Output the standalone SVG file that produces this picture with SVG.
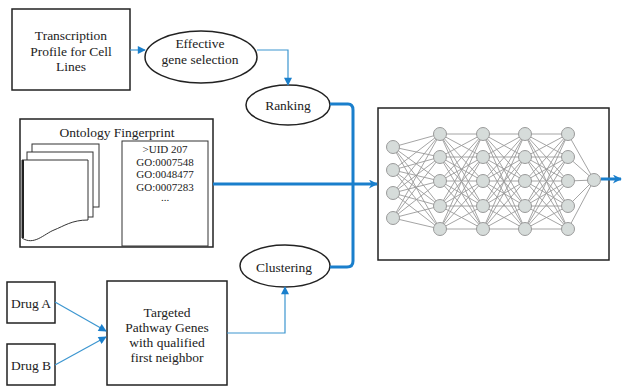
<svg xmlns="http://www.w3.org/2000/svg" width="622" height="387" viewBox="0 0 622 387" font-family="'Liberation Serif', 'DejaVu Serif', serif">
<style>
text{font-family:'Liberation Serif','DejaVu Serif',serif;fill:#222;text-anchor:middle}
.t{font-size:13.5px}
.s{font-size:11px}
.box{fill:#fff;stroke:#222;stroke-width:1.5}
.thin{fill:#fff;stroke:#333;stroke-width:1}
.bl{fill:none;stroke:#3c96d0;stroke-width:1.2}
.bk{fill:none;stroke:#1a7fcc;stroke-width:3}
.edge{fill:none;stroke:#9a9a9a;stroke-width:0.9}
.nd{fill:#d6dcda;stroke:#9a9a9a;stroke-width:1}
</style>
<defs>
<marker id="ah" viewBox="0 0 10 10" refX="9" refY="5" markerWidth="9" markerHeight="8" markerUnits="userSpaceOnUse" orient="auto"><path d="M0,0L10,5L0,10z" fill="#1a7fcc"/></marker>
<marker id="ahb" viewBox="0 0 10 10" refX="9" refY="5" markerWidth="13" markerHeight="9" markerUnits="userSpaceOnUse" orient="auto"><path d="M0,0L10,5L0,10L3,5z" fill="#1a7fcc"/></marker>
</defs>

<g id="transcription">
<rect class="box" x="12" y="9" width="118" height="81"/>
<text class="t" x="71" y="40">Transcription</text>
<text class="t" x="71" y="55.5">Profile for Cell</text>
<text class="t" x="71" y="71">Lines</text>
</g>

<g id="effective">
<ellipse class="box" cx="201" cy="57" rx="56" ry="26"/>
<text class="t" x="200" y="47.5">Effective</text>
<text class="t" x="200" y="63.5">gene selection</text>
</g>

<g id="ranking">
<ellipse class="box" cx="288" cy="105" rx="42" ry="20"/>
<text class="t" x="288" y="109.5">Ranking</text>
</g>

<g id="clustering">
<ellipse class="box" cx="285" cy="266" rx="45" ry="21"/>
<text class="t" x="284" y="272">Clustering</text>
</g>

<g id="ontology">
<rect class="box" x="20" y="119" width="193" height="128"/>
<text class="t" x="117" y="136.5">Ontology Fingerprint</text>
<rect class="thin" x="32" y="144" width="67" height="63"/>
<rect class="thin" x="27" y="152" width="66" height="65"/>
<path class="thin" d="M22,160H88V220C72,220 64,226 54,230C44,234 34,246 22,238Z"/>
<line x1="23" y1="160" x2="23" y2="238" stroke="#222" stroke-width="2"/>
<rect class="thin" x="122" y="141" width="86" height="105"/>
<text class="s" x="165" y="153">&gt;UID 207</text>
<text class="s" x="165" y="165.5">GO:0007548</text>
<text class="s" x="165" y="178">GO:0048477</text>
<text class="s" x="165" y="190.5">GO:0007283</text>
<text class="s" x="165" y="201">...</text>
</g>

<g id="drugA">
<rect class="box" x="7" y="282" width="48" height="41"/>
<text class="t" x="31" y="307.5">Drug A</text>
</g>

<g id="drugB">
<rect class="box" x="7" y="344" width="48" height="41"/>
<text class="t" x="31" y="369.5">Drug B</text>
</g>

<g id="targeted">
<rect class="box" x="107" y="281" width="120" height="104"/>
<text class="t" x="167" y="316.5">Targeted</text>
<text class="t" x="167" y="331.5">Pathway Genes</text>
<text class="t" x="167" y="346.5">with qualified</text>
<text class="t" x="167" y="361.5">first neighbor</text>
</g>

<g id="network">
<rect class="box" x="378" y="108" width="231" height="152"/>
<path class="edge" d="M393 147L440 134M393 147L440 157M393 147L440 181M393 147L440 206M393 147L440 229M393 170L440 134M393 170L440 157M393 170L440 181M393 170L440 206M393 170L440 229M393 193L440 134M393 193L440 157M393 193L440 181M393 193L440 206M393 193L440 229M393 218L440 134M393 218L440 157M393 218L440 181M393 218L440 206M393 218L440 229"/>
<path class="edge" d="M440 134L483 134M440 134L483 157M440 134L483 181M440 134L483 206M440 134L483 229M440 157L483 134M440 157L483 157M440 157L483 181M440 157L483 206M440 157L483 229M440 181L483 134M440 181L483 157M440 181L483 181M440 181L483 206M440 181L483 229M440 206L483 134M440 206L483 157M440 206L483 181M440 206L483 206M440 206L483 229M440 229L483 134M440 229L483 157M440 229L483 181M440 229L483 206M440 229L483 229"/>
<path class="edge" d="M483 134L525 134M483 134L525 157M483 134L525 181M483 134L525 206M483 134L525 229M483 157L525 134M483 157L525 157M483 157L525 181M483 157L525 206M483 157L525 229M483 181L525 134M483 181L525 157M483 181L525 181M483 181L525 206M483 181L525 229M483 206L525 134M483 206L525 157M483 206L525 181M483 206L525 206M483 206L525 229M483 229L525 134M483 229L525 157M483 229L525 181M483 229L525 206M483 229L525 229"/>
<path class="edge" d="M525 134L568 134M525 134L568 157M525 134L568 181M525 134L568 206M525 134L568 229M525 157L568 134M525 157L568 157M525 157L568 181M525 157L568 206M525 157L568 229M525 181L568 134M525 181L568 157M525 181L568 181M525 181L568 206M525 181L568 229M525 206L568 134M525 206L568 157M525 206L568 181M525 206L568 206M525 206L568 229M525 229L568 134M525 229L568 157M525 229L568 181M525 229L568 206M525 229L568 229"/>
<path class="edge" d="M568 134L594 180M568 157L594 180M568 181L594 180M568 206L594 180M568 229L594 180"/>
<g>
<circle class="nd" cx="393" cy="147" r="6.5"/><circle class="nd" cx="393" cy="170" r="6.5"/><circle class="nd" cx="393" cy="193" r="6.5"/><circle class="nd" cx="393" cy="218" r="6.5"/>
<circle class="nd" cx="440" cy="134" r="6.5"/><circle class="nd" cx="440" cy="157" r="6.5"/><circle class="nd" cx="440" cy="181" r="6.5"/><circle class="nd" cx="440" cy="206" r="6.5"/><circle class="nd" cx="440" cy="229" r="6.5"/>
<circle class="nd" cx="483" cy="134" r="6.5"/><circle class="nd" cx="483" cy="157" r="6.5"/><circle class="nd" cx="483" cy="181" r="6.5"/><circle class="nd" cx="483" cy="206" r="6.5"/><circle class="nd" cx="483" cy="229" r="6.5"/>
<circle class="nd" cx="525" cy="134" r="6.5"/><circle class="nd" cx="525" cy="157" r="6.5"/><circle class="nd" cx="525" cy="181" r="6.5"/><circle class="nd" cx="525" cy="206" r="6.5"/><circle class="nd" cx="525" cy="229" r="6.5"/>
<circle class="nd" cx="568" cy="134" r="6.5"/><circle class="nd" cx="568" cy="157" r="6.5"/><circle class="nd" cx="568" cy="181" r="6.5"/><circle class="nd" cx="568" cy="206" r="6.5"/><circle class="nd" cx="568" cy="229" r="6.5"/>
<circle class="nd" cx="594" cy="180" r="6.5"/>
</g>
</g>

<g id="connectors">
<path class="bl" d="M130,50H145" marker-end="url(#ah)"/>
<path class="bl" d="M257,50H288V85" marker-end="url(#ah)"/>
<path class="bl" d="M55,302L106,331" marker-end="url(#ah)"/>
<path class="bl" d="M55,365L106,337" marker-end="url(#ah)"/>
<path class="bl" d="M227,333H285V287" marker-end="url(#ah)"/>
<path class="bk" d="M330,104H348Q353,104 353,110V261Q353,267 347,267H330"/>
<path class="bk" d="M213,184H377" marker-end="url(#ahb)"/>
<path class="bk" stroke-width="2.5" d="M601,179H621" marker-end="url(#ahb)"/>
</g>
</svg>
